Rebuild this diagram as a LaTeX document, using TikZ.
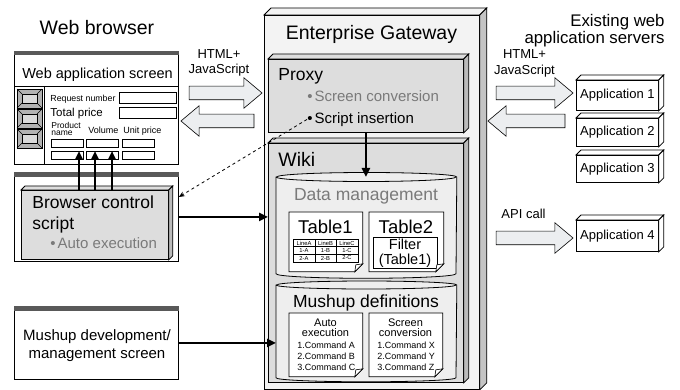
\documentclass[tikz,border=0pt]{standalone}
\usepackage{fontspec}
\setmainfont{Liberation Sans}
\usetikzlibrary{shapes,positioning,fit,calc,arrows.meta}

\definecolor{barGray}{HTML}{595959}
\definecolor{gwFace}{HTML}{F3F3F3}
\definecolor{gwSide}{HTML}{C4C4C4}
\definecolor{boxGray}{HTML}{DDDDDD}
\definecolor{boxSide}{HTML}{BBBBBB}
\definecolor{drumFill}{HTML}{EEEEEE}
\definecolor{flowFill}{HTML}{ECEEF0}
\definecolor{dimText}{HTML}{7A7A7A}

% depth faces of a box node: #1 node, #2 depth, #3 top fill, #4 side fill
\newcommand{\extrude}[4]{%
  \filldraw[fill=#3] (#1.north west) -- ++(#2,-#2) -- ($(#1.north east)+(#2,-#2)$) -- (#1.north east) -- cycle;
  \filldraw[fill=#4] (#1.north east) -- ++(#2,-#2) -- ($(#1.south east)+(#2,-#2)$) -- (#1.south east) -- cycle;
}

\begin{document}
\begin{tikzpicture}
            [x=1pt, y=-1pt, line width=0.8pt,
            box/.style={draw, inner sep=0pt, anchor=north west},
            window/.style={box, fill=white},
            docbox/.style={inner sep=0pt, anchor=north west},
            txt/.style={inner sep=0pt},
            huge/.style={txt, font=\fontsize{19.5}{23}\selectfont},
            big/.style={txt, font=\fontsize{17.5}{21}\selectfont},
            mid/.style={txt, font=\fontsize{15}{18}\selectfont},
            med/.style={txt, font=\fontsize{13}{16}\selectfont},
            cmd/.style={txt, font=\fontsize{9}{11}\selectfont},
            flow/.style={single arrow, draw, fill=flowFill, line width=0.6pt,
                inner sep=6.5pt, minimum height=73pt, single arrow head extend=8.5pt,
                single arrow tip angle=80, single arrow head indent=0pt},
            link/.style={-{Triangle[length=9pt,width=8pt]}, line width=2.3pt}
            ]
            \useasboundingbox (0,0) rectangle (680,390);

            % Web browser
            \node[huge, anchor=base] (wbtitle) at (97,35) {Web browser};
            \node[window, minimum width=164pt, minimum height=113pt] (wbw) at (14,51) {};
            \fill[barGray] (wbw.north west) rectangle ($(wbw.north east)+(0,4)$);
            \node[txt, font=\fontsize{14.5}{17}\selectfont, anchor=base] (wbname) at (97.5,78.3) {Web application screen};
            \draw (wbw.west |- 0,86) -- (wbw.east |- 0,86);
            \draw (44,86) -- (wbw.south -| 44,0);

            \foreach \y in {89,109,129} {
                \filldraw[fill=gray!60] (17,\y) rectangle (42,\y+19);
                \filldraw[fill=gray!30] (22,\y+5) rectangle (37,\y+14);
                \draw[line width=0.5pt] (17,\y) -- (22,\y+5) (42,\y) -- (37,\y+5)
                    (17,\y+19) -- (22,\y+14) (42,\y+19) -- (37,\y+14);
            }

            \node[txt, font=\fontsize{8.8}{11}\selectfont, anchor=base west] (reqlbl) at (50,101.7) {Request number};
            \node[box, minimum width=57pt, minimum height=11pt] (reqfld) at (119,92) {};
            \node[txt, font=\fontsize{11.5}{13}\selectfont, anchor=base west] (totlbl) at (50,116.7) {Total price};
            \node[box, minimum width=57pt, minimum height=11pt] (totfld) at (119,107) {};
            \node[txt, font=\fontsize{8.5}{8.5}\selectfont, anchor=base west] (prodlbl) at (51,128.3) {Product};
            \node[txt, font=\fontsize{8.5}{8.5}\selectfont, anchor=base west] (namelbl) at (51,135.7) {name};
            \node[txt, font=\fontsize{9}{11}\selectfont, anchor=base west] (vollbl) at (88,134) {Volume};
            \node[txt, font=\fontsize{9}{11}\selectfont, anchor=base west] (unitlbl) at (123,134) {Unit price};
            \foreach \c/\x in {1/51,2/86,3/122}
                \foreach \r/\y in {1/139,2/151}
                    \node[box, line width=0.7pt, minimum width=32pt, minimum height=8pt] (f\r\c) at (\x,\y) {};

            % Browser control script
            \node[window, minimum width=164pt, minimum height=89pt] (bcsw) at (14,172) {};
            \fill[barGray] (bcsw.north west) rectangle ($(bcsw.north east)+(0,5)$);
            \node[box, fill=boxGray, minimum width=147pt, minimum height=69pt] (bcs) at (21,190) {};
            \extrude{bcs}{4}{boxGray}{boxSide}
            \node[big, anchor=base west] (bcs1) at (32,208.3) {Browser control};
            \node[big, anchor=base west] (bcs2) at (32,229.5) {script};
            \node[mid, text=dimText, anchor=base west] (bcs3) at (50,248.3) {\textbullet\hspace{2pt}Auto execution};

            % Mushup development screen
            \node[window, minimum width=164pt, minimum height=73pt] (mdw) at (14,306) {};
            \fill[barGray] (mdw.north west) rectangle ($(mdw.north east)+(0,5)$);
            \node[mid, anchor=base] (mdw1) at (97,340) {Mushup development/};
            \node[mid, anchor=base] (mdw2) at (97,358.3) {management screen};

            % Enterprise Gateway
            \node[box, fill=gwFace, minimum width=215pt, minimum height=374pt] (gw) at (264,15) {};
            \extrude{gw}{7}{gwFace}{gwSide}
            \node[huge, anchor=base] (gwtitle) at (371.5,39.3) {Enterprise Gateway};

            \node[box, fill=boxGray, minimum width=195pt, minimum height=73pt] (proxy) at (268,59) {};
            \extrude{proxy}{5}{boxGray}{boxSide}
            \node[big, anchor=base west] (proxylbl) at (278,81) {Proxy};
            \node[mid, text=dimText, anchor=base west] (sconv) at (307,101.7) {\textbullet\hspace{2pt}Screen conversion};
            \node[mid, anchor=base west] (sins) at (307,123.3) {\textbullet\hspace{2pt}Script insertion};

            \node[box, fill=boxGray, minimum width=195pt, minimum height=239pt] (wiki) at (268,143) {};
            \extrude{wiki}{5}{boxGray}{boxSide}
            \node[huge, anchor=base west] (wikilbl) at (278,166.7) {Wiki};

            % Data management drum
            \node[docbox, minimum width=180pt, minimum height=96pt] (dm) at (276,177) {};
            \filldraw[fill=drumFill] (dm.north west) -- (dm.south west)
                arc[start angle=180, end angle=360, x radius=90pt, y radius=4.5pt]
                -- (dm.north east) arc[start angle=0, end angle=180, x radius=90pt, y radius=4.5pt] -- cycle;
            \draw (dm.north west) arc[start angle=180, end angle=360, x radius=90pt, y radius=4.5pt];
            \node[big, text=dimText, anchor=base] (dmlbl) at (366,200.7) {Data management};

            % Mushup definitions drum
            \node[docbox, minimum width=180pt, minimum height=92pt] (mu) at (276,285) {};
            \filldraw[fill=drumFill] (mu.north west) -- (mu.south west)
                arc[start angle=180, end angle=360, x radius=90pt, y radius=4pt]
                -- (mu.north east) arc[start angle=0, end angle=180, x radius=90pt, y radius=4pt] -- cycle;
            \draw (mu.north west) arc[start angle=180, end angle=360, x radius=90pt, y radius=4pt];
            \node[big, anchor=base] (mulbl) at (366,307.3) {Mushup definitions};

            % Documents
            \node[docbox, minimum width=73pt, minimum height=59pt] (tab1) at (289,212) {};
            \node[docbox, minimum width=74pt, minimum height=59pt] (tab2) at (369,212) {};
            \node[docbox, minimum width=73pt, minimum height=63pt] (autoex) at (289,313) {};
            \node[docbox, minimum width=73pt, minimum height=63pt] (scrconv) at (369,313) {};
            \foreach \d in {tab1,tab2,autoex,scrconv}
                \filldraw[fill=white, line width=0.7pt] (\d.north west) -- (\d.north east)
                    -- ($(\d.south east)+(0,-8)$) -- ($(\d.south east)+(-8,0)$) -- (\d.south west) -- cycle;

            \node[txt, font=\fontsize{18.5}{22}\selectfont, anchor=base] (tab1lbl) at (325.5,233.3) {Table1};
            \node[txt, font=\fontsize{18.5}{22}\selectfont, anchor=base] (tab2lbl) at (406,233.3) {Table2};
            \foreach \r/\a/\b/\c in {0/LineA/LineB/LineC,1/1-A/1-B/1-C,2/2-A/2-B/2-C}
                \foreach \k/\t in {0/\a,1/\b,2/\c}
                    \node[draw, line width=0.5pt, inner sep=0pt, minimum width=21.5pt, minimum height=7.5pt,
                        font=\fontsize{5.8}{6}\selectfont] (cell\r\k) at (304+21.5*\k,243+7.5*\r) {\t};
            \node[box, fill=white, line width=0.6pt, minimum width=64pt, minimum height=31pt] (filt) at (373,237) {};
            \node[txt, font=\fontsize{14.5}{17}\selectfont, anchor=base] (filt1) at (405,250) {Filter};
            \node[txt, font=\fontsize{14.5}{17}\selectfont, anchor=base] (filt2) at (405,264) {(Table1)};

            \node[txt, font=\fontsize{11}{13}\selectfont, anchor=base] (ae1) at (325.5,326.7) {Auto};
            \node[txt, font=\fontsize{11}{13}\selectfont, anchor=base] (ae2) at (325.5,336.7) {execution};
            \node[txt, font=\fontsize{11}{13}\selectfont, anchor=base] (sc1) at (405.5,326.7) {Screen};
            \node[txt, font=\fontsize{11}{13}\selectfont, anchor=base] (sc2) at (405.5,336.7) {conversion};
            \foreach \i/\p/\q in {1/A/X,2/B/Y,3/C/Z} {
                \node[cmd, anchor=base west] (aec\i) at (297,337.3+11.2*\i) {\i.Command \p};
                \node[cmd, anchor=base west] (scc\i) at (377,337.3+11.2*\i) {\i.Command \q};
            }

            \foreach \d in {tab1,tab2,autoex,scrconv}
                \filldraw[fill=white, line width=0.6pt] ($(\d.south east)+(0,-8)$) -- ($(\d.south east)+(-7,-7)$)
                    -- ($(\d.south east)+(-8,0)$) -- cycle;

            % Existing web application servers
            \node[txt, font=\fontsize{16.8}{20}\selectfont, anchor=base east] (ex1) at (665,26.7) {Existing web};
            \node[txt, font=\fontsize{16.8}{20}\selectfont, anchor=base east] (ex2) at (665,44) {application servers};
            \foreach \n/\y/\h in {1/80/30,2/118/28,3/155/27,4/220/31} {
                \node[box, fill=white, minimum width=82pt, minimum height=\h pt, font=\fontsize{13}{16}\selectfont] (app\n) at (576,\y) {Application \n};
                \extrude{app\n}{5}{white}{white}
            }

            % Transfer arrows
            \node[flow] (toproxy) at (221.5,93) {};
            \node[flow, shape border rotate=180] (tobrowser) at (221.5,121) {};
            \node[flow, minimum height=77pt] (toapp) at (530.5,93) {};
            \node[flow, minimum height=77pt, shape border rotate=180] (fromapp) at (530.5,121) {};
            \node[flow, minimum height=77pt] (apicall) at (530.5,238) {};
            \node[med, anchor=base] (h1) at (219,58.3) {HTML+};
            \node[med, anchor=base] (j1) at (219,74) {JavaScript};
            \node[med, anchor=base] (h2) at (524.5,58.3) {HTML+};
            \node[med, anchor=base] (j2) at (524.5,75) {JavaScript};
            \node[med, anchor=base] (apilbl) at (523.5,218.3) {API call};

            % Connectors
            \foreach \x in {79,95,112}
                \draw[link] (bcs.north -| \x,0) -- (f21.north -| \x,0);
            \draw[link] (bcsw.east) -- (bcsw.east -| wiki.west);
            \draw[link] (mdw.east) -- (mdw.east -| mu.west);
            \draw[link] (proxy.south) -- (proxy.south |- dm.north);
            \draw[dashed, -{Stealth[length=6pt,width=5pt]}] (sins.west) -- (bcsw.east |- 0,197);
        \end{tikzpicture}
\end{document}
